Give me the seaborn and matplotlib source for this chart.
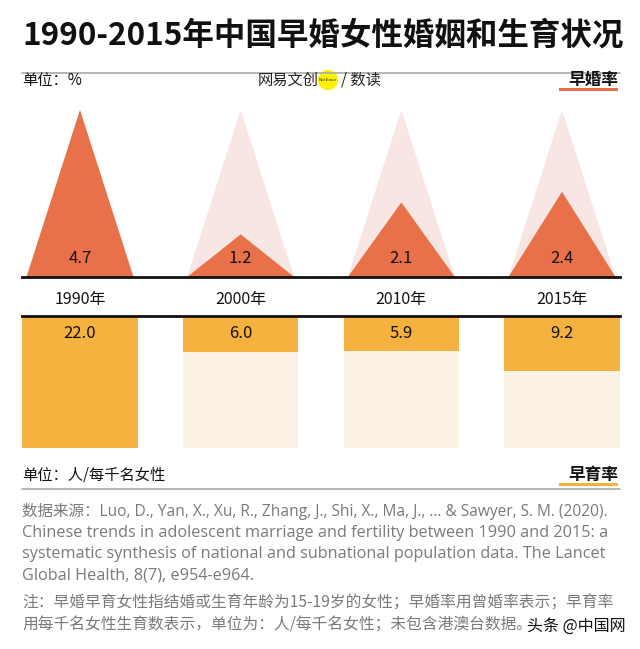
import numpy as np
import pandas as pd
import matplotlib
matplotlib.use('Agg')
import matplotlib.pyplot as plt
import seaborn as sns
from matplotlib.patches import Circle, Rectangle
from matplotlib.lines import Line2D

# ---- data ----
years = ['1990年', '2000年', '2010年', '2015年']
marriage_rate = [4.7, 1.2, 2.1, 2.4]          # 早婚率 %
fertility_rate = [22.0, 6.0, 5.9, 9.2]        # 早育率 人/每千名女性

title = '1990-2015年中国早婚女性婚姻和生育状况'
source_lines = [
    '数据来源：Luo, D., Yan, X., Xu, R., Zhang, J., Shi, X., Ma, J., ... & Sawyer, S. M. (2020).',
    'Chinese trends in adolescent marriage and fertility between 1990 and 2015: a',
    'systematic synthesis of national and subnational population data. The Lancet',
    'Global Health, 8(7), e954-e964.',
]
note_lines = [
    '注：早婚早育女性指结婚或生育年龄为15-19岁的女性；早婚率用曾婚率表示；早育率',
    '用每千名女性生育数表示，单位为：人/每千名女性；未包含港澳台数据。',
]

# ---- style ----
sns.set_theme(style='white')
plt.rcParams['font.family'] = ['Noto Sans CJK SC', 'DejaVu Sans']

TRI_ORANGE = '#E9714A'
TRI_GHOST = '#F8E6E4'
BAR_ORANGE = '#F6B23E'
BAR_GHOST = '#FBF1E5'

W, H = 640, 649
fig = plt.figure(figsize=(W / 100, H / 100), dpi=100)
fig.patch.set_facecolor('white')

def fx(px):
    return px / W

def fy(py):
    return 1 - py / H

xlim = (-0.361, 3.361)
pos = np.arange(len(years))

# ---- top: triangles ----
ax_t = fig.add_axes([fx(22), fy(277), fx(598), (277 - 110) / H])
mx = max(marriage_rate)
hw = 0.333
for i, v in enumerate(marriage_rate):
    ax_t.fill([i - hw, i, i + hw], [0, mx, 0], color=TRI_GHOST, lw=0, zorder=1)
    ax_t.fill([i - hw, i, i + hw], [0, v, 0], color=TRI_ORANGE, lw=0, zorder=2)
    ax_t.annotate(f'{v:.1f}', xy=(i, 0), xytext=(0, 13.5), textcoords='offset points',
                  ha='center', va='center', fontsize=12, color='#111111', zorder=3)
ax_t.set_xlim(*xlim)
ax_t.set_ylim(0, mx)
ax_t.set_facecolor('none')
for s in ['top', 'left', 'right']:
    ax_t.spines[s].set_visible(False)
ax_t.spines['bottom'].set_color('#111111')
ax_t.spines['bottom'].set_linewidth(2)
ax_t.spines['bottom'].set_zorder(5)
ax_t.set_yticks([])
ax_t.set_xticks(pos)
ax_t.set_xticklabels(years)
ax_t.tick_params(axis='x', direction='in', length=6, width=1.3, color='#111111',
                 labelsize=11.5, pad=10, labelcolor='#111111', bottom=True)

# ---- bottom: bars ----
ax_b = fig.add_axes([fx(22), fy(448), fx(598), (448 - 316) / H])
fmax = max(fertility_rate)
df = pd.DataFrame({'year': years, 'value': fertility_rate, 'full': [fmax] * len(years)})
sns.barplot(data=df, x='year', y='full', color=BAR_GHOST, width=0.716,
            saturation=1, ax=ax_b, zorder=1)
sns.barplot(data=df, x='year', y='value', color=BAR_ORANGE, width=0.716,
            saturation=1, ax=ax_b, zorder=2)
for p in ax_b.patches:
    p.set_linewidth(0)
for i, v in enumerate(fertility_rate):
    ax_b.annotate(f'{v:.1f}', xy=(i, 0), xytext=(0, -12.5), textcoords='offset points',
                  ha='center', va='center', fontsize=12, color='#111111', zorder=4)
ax_b.set_xlim(*xlim)
ax_b.set_ylim(fmax, 0)
ax_b.set_xlabel('')
ax_b.set_ylabel('')
ax_b.set_yticks([])
ax_b.set_facecolor('none')
for s in ['bottom', 'left', 'right']:
    ax_b.spines[s].set_visible(False)
ax_b.spines['top'].set_color('#111111')
ax_b.spines['top'].set_linewidth(2)
ax_b.spines['top'].set_zorder(5)
ax_b.xaxis.set_ticks_position('top')
ax_b.set_xticks(pos)
ax_b.tick_params(axis='x', direction='in', length=6, width=1.3, color='#111111',
                 labeltop=False, labelbottom=False, top=True, bottom=False)

# ---- texts & decorations ----
fig.text(fx(22), fy(36), title, fontsize=22.7, fontweight='bold', color='#111111',
         ha='left', va='center')
fig.add_artist(Line2D([fx(22), fx(620)], [fy(73), fy(73)], color='#A9A9A9', lw=1.2))

fig.text(fx(22), fy(80), '单位：%', fontsize=11, color='#111111', ha='left', va='center')
fig.add_artist(Rectangle((fx(559), fy(91)), fx(59), 3 / H, color=TRI_ORANGE, lw=0))
fig.text(fx(618), fy(80), '早婚率', fontsize=12, fontweight='bold', color='#111111',
         ha='right', va='center')

# logo
fig.text(fx(258), fy(80), '网易文创', fontsize=11, color='#222222', ha='left', va='center')
fig.add_artist(Circle((fx(328), fy(80)), 10 / W, color='#FFF200', lw=0))
fig.text(fx(328), fy(80), 'NetEase', fontsize=3.2, color='#333333', ha='center', va='center',
         family='DejaVu Sans')
fig.text(fx(341), fy(80), '/ 数读', fontsize=11, color='#222222', ha='left', va='center')

fig.text(fx(22), fy(475), '单位：人/每千名女性', fontsize=11, color='#111111',
         ha='left', va='center')
fig.add_artist(Rectangle((fx(559), fy(486)), fx(59), 3 / H, color=BAR_ORANGE, lw=0))
fig.text(fx(618), fy(475), '早育率', fontsize=12, fontweight='bold', color='#111111',
         ha='right', va='center')
fig.add_artist(Line2D([fx(22), fx(620)], [fy(489), fy(489)], color='#A9A9A9', lw=1.2))

for k, line in enumerate(source_lines):
    fig.text(fx(22), fy(512 + k * 21), line, fontsize=11.2 if k == 0 else 11.7,
             color='#7A7A7A', ha='left', va='center',
             family=['Open Sans', 'Noto Sans CJK SC'])
for k, line in enumerate(note_lines):
    fig.text(fx(22), fy(603 + k * 22), line, fontsize=11.3, color='#7A7A7A',
             ha='left', va='center')

fig.text(fx(626), fy(626), '头条 @中国网', fontsize=11.5, color='#111111',
         ha='right', va='center',
         bbox=dict(boxstyle='square,pad=0.1', fc='white', ec='none', alpha=0.6))

fig.savefig('out.png', dpi=100, facecolor='white')
